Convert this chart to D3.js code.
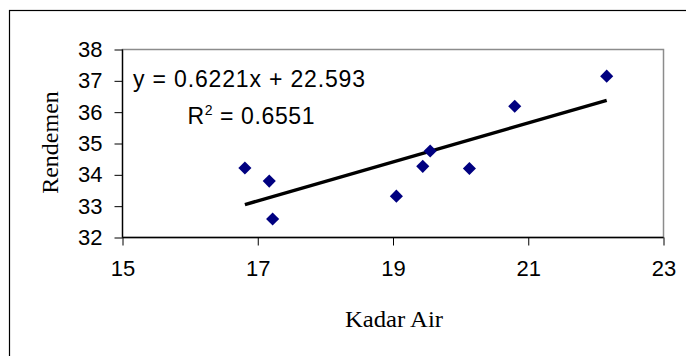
<!DOCTYPE html>
<html><head><meta charset="utf-8">
<script src="https://cdn.jsdelivr.net/npm/d3@7"></script>
<style>body{margin:0;background:#fff}svg{display:block}</style>
</head><body>
<script>
const kadarAir = [16.81, 17.17, 17.22, 19.05, 19.44, 19.55, 20.13, 20.80, 22.16];
const rendemen = [34.22, 33.80, 32.59, 33.32, 34.27, 34.76, 34.20, 36.19, 37.15];
const xTicks = [15, 17, 19, 21, 23];
const yTicks = [32, 33, 34, 35, 36, 37, 38];
const slope = 0.6221, intercept = 22.593;
const eqText = "y = 0.6221x + 22.593";
const r2Value = "0.6551";

const W = 686, H = 356;
const svg = d3.select("body").append("svg").attr("width", W).attr("height", H);

svg.append("rect").attr("x", 9.5).attr("y", 10.5).attr("width", 700).attr("height", 400)
  .attr("fill", "none").attr("stroke", "#000").attr("stroke-width", 1.2);

const x = d3.scaleLinear().domain([15, 23]).range([122.5, 663.5]);
const y = d3.scaleLinear().domain([32, 38]).range([237.5, 49.5]);

svg.append("rect").attr("x", x(15)).attr("y", y(38)).attr("width", x(23) - x(15)).attr("height", y(32) - y(38))
  .attr("fill", "none").attr("stroke", "#8c8c8c").attr("stroke-width", 1.5);

const font = "'Liberation Sans', Arial, sans-serif";
const serif = "'Liberation Serif', 'Times New Roman', serif";

const yAxis = svg.append("g").attr("transform", `translate(${x(15)},0)`)
  .call(d3.axisLeft(y).tickValues(yTicks).tickSize(8).tickPadding(12).tickFormat(d3.format("d")));
const xAxis = svg.append("g").attr("transform", `translate(0,${y(32)})`)
  .call(d3.axisBottom(x).tickValues(xTicks).tickSize(8).tickPadding(15).tickFormat(d3.format("d")));
[yAxis, xAxis].forEach(a => {
  a.select(".domain").attr("stroke", "#000").attr("stroke-width", 1.3);
  a.selectAll(".tick line").attr("stroke", "#000").attr("stroke-width", 1);
  a.selectAll("text").attr("font-family", font).attr("font-size", 22).attr("fill", "#000");
});
yAxis.select(".domain").attr("d", `M0,${y(32)}V${y(38)}`);
xAxis.select(".domain").attr("d", `M${x(15)},0H${x(23)}`);

const [xmin, xmax] = d3.extent(kadarAir);
svg.append("line")
  .attr("x1", x(xmin)).attr("y1", y(slope * xmin + intercept))
  .attr("x2", x(xmax)).attr("y2", y(slope * xmax + intercept))
  .attr("stroke", "#000").attr("stroke-width", 3.4);

const diamond = d3.symbol().type(d3.symbolSquare).size(86);
svg.selectAll("path.pt").data(kadarAir).join("path").attr("class", "pt")
  .attr("d", diamond)
  .attr("transform", (d, i) => `translate(${x(d)},${y(rendemen[i])}) rotate(45)`)
  .attr("fill", "#000080");

svg.append("text").attr("x", 133).attr("y", 87).attr("font-family", font).attr("font-size", 23)
  .attr("textLength", 232).attr("lengthAdjust", "spacing").text(eqText);
const r2 = svg.append("text").attr("x", 187.5).attr("y", 124).attr("font-family", font).attr("font-size", 23)
  .attr("letter-spacing", 0.6);
r2.append("tspan").text("R");
r2.append("tspan").attr("dy", -9).attr("font-size", 14).text("2");
r2.append("tspan").attr("dy", 9).text(" = " + r2Value);

svg.append("text").attr("transform", `translate(58,142.5) rotate(-90)`).attr("text-anchor", "middle")
  .attr("font-family", serif).attr("font-size", 24).text("Rendemen");
svg.append("text").attr("x", 394).attr("y", 327).attr("text-anchor", "middle")
  .attr("font-family", serif).attr("font-size", 24).attr("textLength", 98).attr("lengthAdjust", "spacingAndGlyphs").text("Kadar Air");
</script>
</body></html>
